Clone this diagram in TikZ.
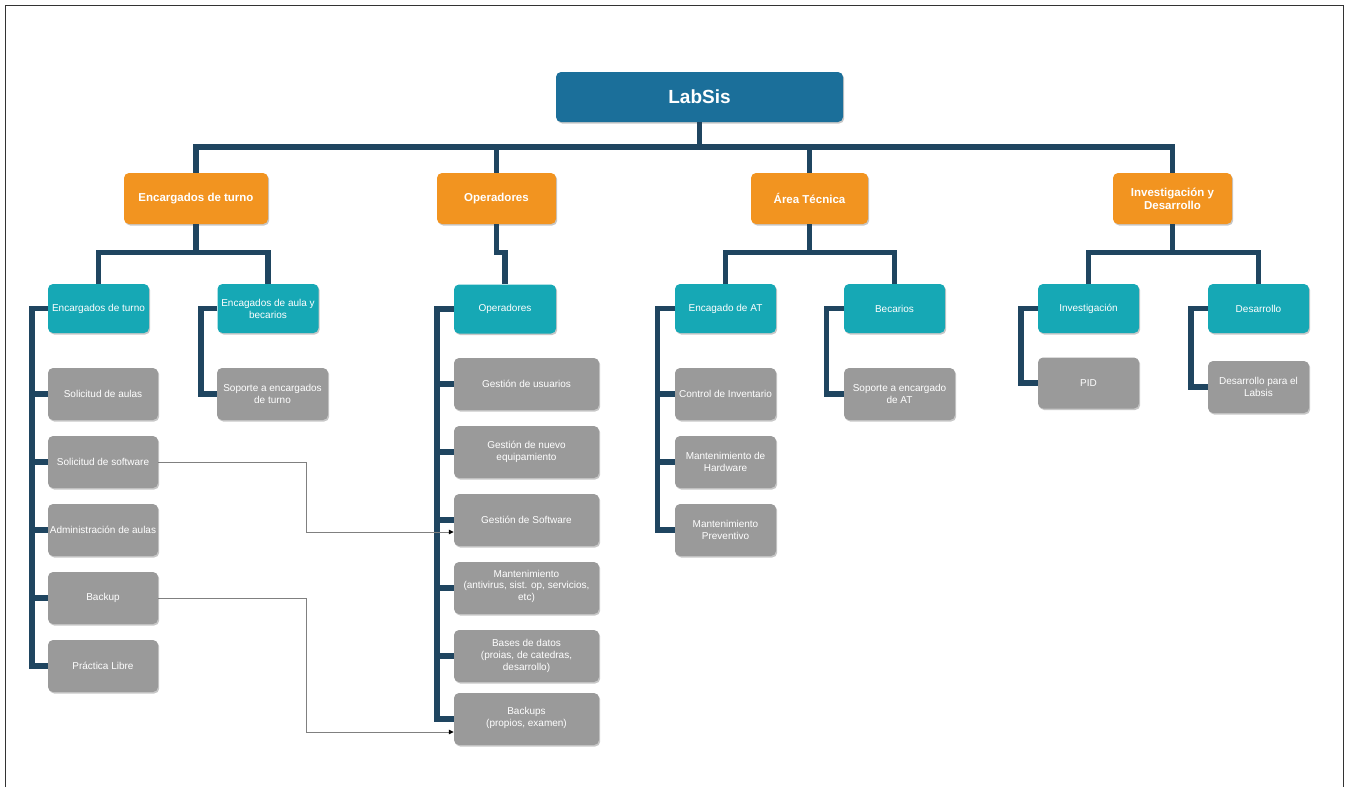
\documentclass[tikz,border=0pt]{standalone}
\usepackage{fontspec}
\setmainfont{Liberation Sans}
\usetikzlibrary{arrows.meta,shadows}
\definecolor{rootc}{HTML}{1B6F9A}
\definecolor{orc}{HTML}{F29420}
\definecolor{tealc}{HTML}{16A8B5}
\definecolor{grayc}{HTML}{9A9A9A}
\definecolor{trunkc}{HTML}{1F4560}
\definecolor{thinc}{HTML}{808080}
\definecolor{framec}{HTML}{333333}
\tikzset{
  boxbase/.style={rectangle, rounded corners=5pt, inner sep=1pt, align=center, text=white,
    drop shadow={shadow xshift=1.2pt, shadow yshift=-1.5pt, opacity=0.22, fill=black}},
  rootbox/.style={boxbase, fill=rootc, minimum width=287pt, minimum height=50pt,
    font=\bfseries\fontsize{19}{22}\selectfont},
  orbox/.style={boxbase, fill=orc, minimum height=51pt,
    font=\bfseries\fontsize{11.5}{13}\selectfont},
  tealbox/.style={boxbase, fill=tealc, minimum width=101pt, minimum height=49pt,
    font=\fontsize{10}{12}\selectfont},
  graybox/.style={boxbase, fill=grayc, minimum height=52pt, inner sep=0pt,
    font=\fontsize{10}{12}\selectfont},
  trunk/.style={draw=trunkc, line width=5.5pt},
  xref/.style={draw=thinc, line width=1pt, -{Triangle[length=5pt,width=4.5pt,color=black]}},
}
\begin{document}
\begin{tikzpicture}[x=1pt,y=-1pt]
\useasboundingbox (0,0) rectangle (1349,787);
\draw[framec, line width=1.8pt] (5.5,787) -- (5.5,5.5) -- (1343.5,5.5) -- (1343.5,787);

% root and level 1
\node[rootbox] (root) at (699.5,97) {LabSis};
\node[orbox, minimum width=144pt] (o1) at (196,198.5) {Encargados de turno};
\node[orbox, minimum width=119pt] (o2) at (496.5,198.5) {Operadores};
\node[orbox, minimum width=117pt] (o3) at (809.5,198.5) {Área Técnica};
\node[orbox, minimum width=119pt] (o4) at (1172.5,198.5) {Investigación y\\Desarrollo};

% level 2
\node[tealbox] (t1) at (98.5,308.5) {Encargados de turno};
\node[tealbox] (t2) at (268,308.5) {Encagados de aula y\\becarios};
\node[tealbox, minimum width=102pt] (t3) at (505,309) {Operadores};
\node[tealbox] (t4) at (725.5,308.5) {Encagado de AT};
\node[tealbox] (t5) at (894.5,308.5) {Becarios};
\node[tealbox] (t6) at (1088.5,308.5) {Investigación};
\node[tealbox] (t7) at (1258.5,308.5) {Desarrollo};

% level 3
\node[graybox, minimum width=110pt] (g11) at (103,394) {Solicitud de aulas};
\node[graybox, minimum width=110pt] (g12) at (103,462) {Solicitud de software};
\node[graybox, minimum width=110pt] (g13) at (103,530) {Administración de aulas};
\node[graybox, minimum width=110pt] (g14) at (103,598) {Backup};
\node[graybox, minimum width=110pt] (g15) at (103,666) {Práctica Libre};
\node[graybox, minimum width=111pt] (g21) at (272.5,394) {Soporte a encargados\\de turno};
\node[graybox, minimum width=145pt] (g31) at (526.5,384) {Gestión de usuarios};
\node[graybox, minimum width=145pt] (g32) at (526.5,452) {Gestión de nuevo\\equipamiento};
\node[graybox, minimum width=145pt] (g33) at (526.5,520) {Gestión de Software};
\node[graybox, minimum width=145pt] (g34) at (526.5,588) {\raisebox{5pt}{\shortstack{Mantenimiento\\(antivirus, sist. op, servicios,\\etc)}}};
\node[graybox, minimum width=145pt] (g35) at (526.5,656) {Bases de datos\\(proias, de catedras,\\desarrollo)};
\node[graybox, minimum width=145pt] (g36) at (526.5,719) {\raisebox{4pt}{\shortstack{Backups\\(propios, examen)}}};
\node[graybox, minimum width=101pt] (g41) at (725.5,394) {Control de Inventario};
\node[graybox, minimum width=101pt] (g42) at (725.5,462) {Mantenimiento de\\Hardware};
\node[graybox, minimum width=101pt] (g43) at (725.5,530) {Mantenimiento\\Preventivo};
\node[graybox, minimum width=111pt] (g51) at (899.5,394) {Soporte a encargado\\de AT};
\node[graybox, minimum width=101pt, minimum height=51pt] (g61) at (1088.5,383) {PID};
\node[graybox, minimum width=101pt] (g71) at (1258.5,387) {Desarrollo para el\\Labsis};

% connectors root -> level 1
\foreach \c in {o1,o2,o3,o4} \draw[trunk] (root.south) -- ++(0,25) -| (\c.north);
% level 1 -> level 2
\draw[trunk] (o1.south) -- ++(0,28.5) -| (t1.north);
\draw[trunk] (o1.south) -- ++(0,28.5) -| (t2.north);
\draw[trunk] (o2.south) -- ++(0,28.5) -| (t3.north);
\draw[trunk] (o3.south) -- ++(0,28.5) -| (t4.north);
\draw[trunk] (o3.south) -- ++(0,28.5) -| (t5.north);
\draw[trunk] (o4.south) -- ++(0,28.5) -| (t6.north);
\draw[trunk] (o4.south) -- ++(0,28.5) -| (t7.north);
% level 2 -> level 3
\foreach \g in {g11,g12,g13,g14,g15} \draw[trunk] (t1.west) -- ++(-16,0) |- (\g.west);
\draw[trunk] (t2.west) -- ++(-16.5,0) |- (g21.west);
\foreach \g in {g31,g32,g33,g34,g35,g36} \draw[trunk] (t3.west) -- ++(-17,0) |- (\g.west);
\foreach \g in {g41,g42,g43} \draw[trunk] (t4.west) -- ++(-17.5,0) |- (\g.west);
\draw[trunk] (t5.west) -- ++(-17.5,0) |- (g51.west);
\draw[trunk] (t6.west) -- ++(-17,0) |- (g61.west);
\draw[trunk] (t7.west) -- ++(-17,0) |- (g71.west);

% cross references
\draw[xref] (g12.east) -- ++(148,0) |- ([yshift=-12pt]g33.west);
\draw[xref] (g14.east) -- ++(148,0) |- ([yshift=-13pt]g36.west);
\end{tikzpicture}
\end{document}
